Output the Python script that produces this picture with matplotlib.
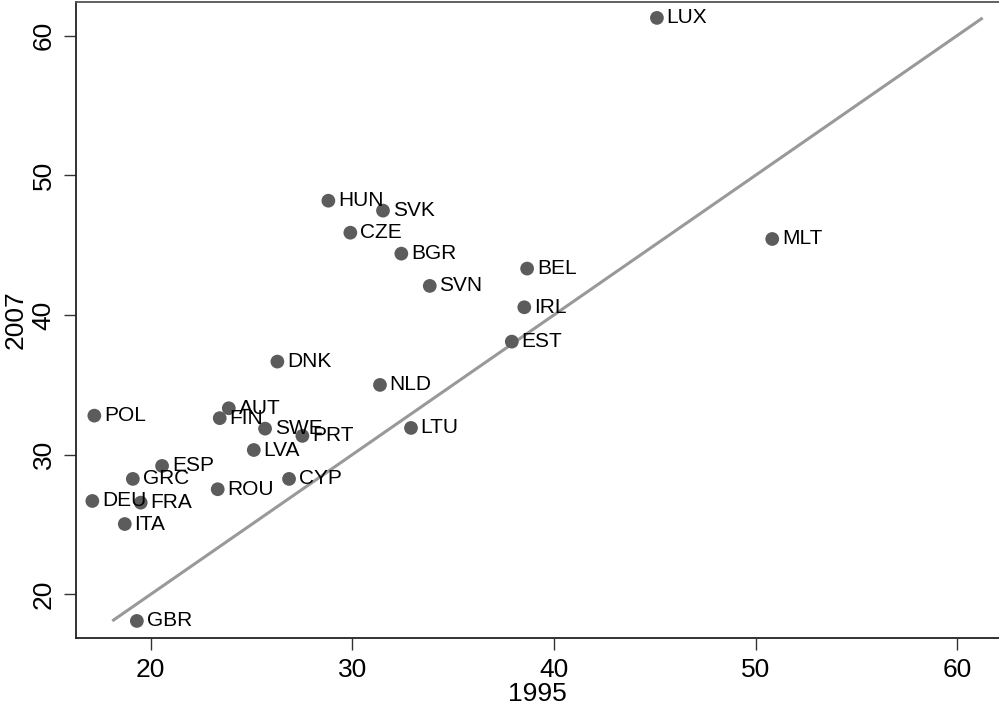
import matplotlib
matplotlib.use("Agg")
import matplotlib.pyplot as plt
import numpy as np

plt.rcParams['font.family'] = ['Liberation Sans', 'DejaVu Sans']

countries = ["LUX", "MLT", "BEL", "IRL", "EST", "HUN", "SVK", "CZE", "BGR", "SVN",
             "DNK", "NLD", "LTU", "POL", "AUT", "FIN", "SWE", "PRT", "LVA", "ESP",
             "GRC", "CYP", "ROU", "DEU", "FRA", "ITA", "GBR"]
val_1995 = [45.11, 50.83, 38.67, 38.53, 37.91, 28.81, 31.52, 29.90, 32.43, 33.84,
            26.28, 31.37, 32.91, 17.20, 23.87, 23.42, 25.67, 27.52, 25.11, 20.56,
            19.11, 26.86, 23.32, 17.10, 19.50, 18.71, 19.31]
val_2007 = [61.27, 45.44, 43.32, 40.55, 38.09, 48.18, 47.47, 45.89, 44.39, 42.08,
            36.66, 34.99, 31.91, 32.79, 33.32, 32.61, 31.86, 31.34, 30.33, 29.19,
            28.26, 28.26, 27.52, 26.68, 26.56, 25.03, 18.09]
x_ticks = [20, 30, 40, 50, 60]
y_ticks = [20, 30, 40, 50, 60]

W, H = 999, 711
fig = plt.figure(figsize=(W / 100, H / 100), dpi=100)
ax = fig.add_axes([76 / W, (H - 637.7) / H, (W - 76) / W, (637.7 - 1.7) / H])

lo = min(val_2007)
hi = max(val_2007)
ax.plot([lo, hi], [lo, hi], color="#999999", lw=2.2, zorder=1, solid_capstyle="butt")

ax.scatter(val_1995, val_2007, s=98, color="#5c5c5c", edgecolors="none", zorder=2)
for c, xv, yv in zip(countries, val_1995, val_2007):
    ax.annotate(c, (xv, yv), xytext=(7, 0), textcoords="offset points",
                ha="left", va="center", fontsize=15, color="black", zorder=3)

ax.set_xlim(16.29, 62.08)
ax.set_ylim(16.89, 62.43)
ax.set_xticks(x_ticks)
ax.set_yticks(y_ticks)
ax.tick_params(axis="both", length=8.5, width=1, color="#333333", labelsize=19, pad=6)
for lab in ax.get_yticklabels():
    lab.set_rotation(90)
    lab.set_va("center")
ax.set_xlabel("1995", fontsize=19, labelpad=0)
ax.set_ylabel("2007", fontsize=19, labelpad=3)

for s in ["left", "bottom", "top"]:
    ax.spines[s].set_color("#222222")
    ax.spines[s].set_linewidth(1.3)
ax.spines["top"].set_color("#555555")
ax.spines["right"].set_visible(False)

fig.savefig("out.png", dpi=100)
